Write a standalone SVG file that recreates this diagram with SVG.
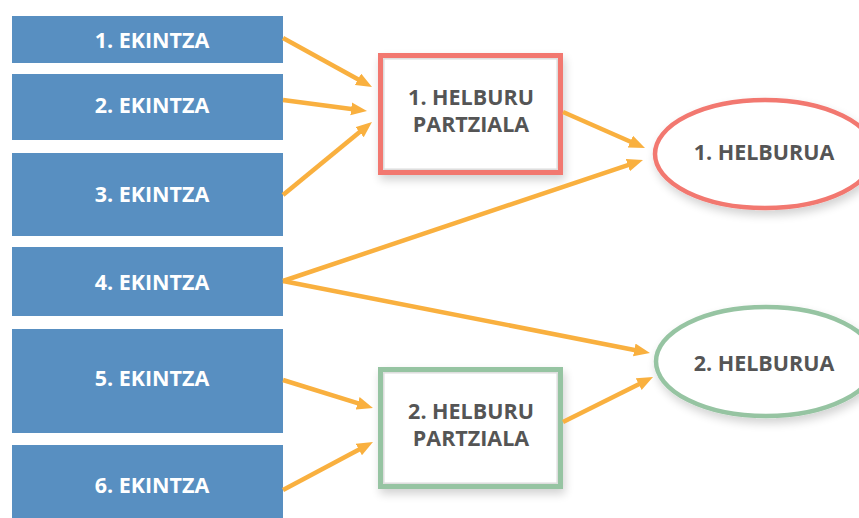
<svg xmlns="http://www.w3.org/2000/svg" width="859" height="518" viewBox="0 0 859 518">
<defs>
<style>
.act{fill:#588fc1}
.actt{font-family:"Open Sans","Liberation Sans",sans-serif;font-weight:bold;font-size:21.5px;fill:#ffffff;text-anchor:middle}
.gt{font-family:"Open Sans","Liberation Sans",sans-serif;font-weight:bold;font-size:21.5px;fill:#555555;text-anchor:middle}
.con{stroke:#f9b03f;stroke-width:4.5;fill:none}
.inner{fill:none;stroke:#dddddd;stroke-width:1.5}
</style>
<marker id="ah" markerUnits="userSpaceOnUse" markerWidth="17" markerHeight="14" refX="4" refY="6.5" orient="auto">
<path d="M0,0 L16,6.5 L0,13 z" fill="#f9b03f"/>
</marker>
<filter id="sh" x="-20%" y="-20%" width="140%" height="150%">
<feGaussianBlur in="SourceAlpha" stdDeviation="5"/>
<feOffset dx="2" dy="5" result="b"/>
<feComponentTransfer><feFuncA type="linear" slope="0.18"/></feComponentTransfer>
<feMerge><feMergeNode/><feMergeNode in="SourceGraphic"/></feMerge>
</filter>
</defs>
<rect width="859" height="518" fill="#ffffff"/>
<g id="ekintza1"><rect class="act" x="12" y="16" width="271" height="47"/><text class="actt" x="152" y="48">1. EKINTZA</text></g>
<g id="ekintza2"><rect class="act" x="12" y="74" width="271" height="66"/><text class="actt" x="152" y="113">2. EKINTZA</text></g>
<g id="ekintza3"><rect class="act" x="12" y="153" width="271" height="83"/><text class="actt" x="152" y="202">3. EKINTZA</text></g>
<g id="ekintza4"><rect class="act" x="12" y="247" width="271" height="69"/><text class="actt" x="152" y="290">4. EKINTZA</text></g>
<g id="ekintza5"><rect class="act" x="12" y="329" width="271" height="104"/><text class="actt" x="152" y="386">5. EKINTZA</text></g>
<g id="ekintza6"><rect class="act" x="12" y="445" width="271" height="73"/><text class="actt" x="152" y="493">6. EKINTZA</text></g>
<g id="partziala1">
<rect x="380.5" y="55.5" width="180" height="117" fill="#ffffff" stroke="#f27870" stroke-width="5" filter="url(#sh)"/>
<rect class="inner" x="383.8" y="58.8" width="173.4" height="110.4"/>
<text class="gt" x="471" y="105">1. HELBURU</text>
<text class="gt" x="471" y="132">PARTZIALA</text>
</g>
<g id="partziala2">
<rect x="380.5" y="369.5" width="180" height="117" fill="#ffffff" stroke="#96c4a2" stroke-width="5" filter="url(#sh)"/>
<rect class="inner" x="383.8" y="372.8" width="173.4" height="110.4"/>
<text class="gt" x="471" y="419">2. HELBURU</text>
<text class="gt" x="471" y="446">PARTZIALA</text>
</g>
<g id="helburua1">
<ellipse cx="765" cy="154" rx="110" ry="54" fill="#ffffff" stroke="#f27870" stroke-width="4.5" filter="url(#sh)"/>
<text class="gt" x="764" y="160">1. HELBURUA</text>
</g>
<g id="helburua2">
<ellipse cx="766" cy="361.5" rx="110" ry="54.5" fill="#ffffff" stroke="#96c4a2" stroke-width="4.5" filter="url(#sh)"/>
<text class="gt" x="764" y="371">2. HELBURUA</text>
</g>
<g id="connectors">
<line class="con" x1="283" y1="38" x2="361.5" y2="81.2" marker-end="url(#ah)"/>
<line class="con" x1="283" y1="100" x2="355.1" y2="109.4" marker-end="url(#ah)"/>
<line class="con" x1="283" y1="195" x2="362.7" y2="129.6" marker-end="url(#ah)"/>
<line class="con" x1="563" y1="112" x2="634" y2="143.2" marker-end="url(#ah)"/>
<line class="con" x1="283" y1="281" x2="631.6" y2="163.8" marker-end="url(#ah)"/>
<line class="con" x1="283" y1="281" x2="638.2" y2="350.7" marker-end="url(#ah)"/>
<line class="con" x1="283" y1="380" x2="361.5" y2="404.4" marker-end="url(#ah)"/>
<line class="con" x1="283" y1="490" x2="362.4" y2="447.7" marker-end="url(#ah)"/>
<line class="con" x1="563" y1="422" x2="642.3" y2="382.4" marker-end="url(#ah)"/>
</g>
</svg>
